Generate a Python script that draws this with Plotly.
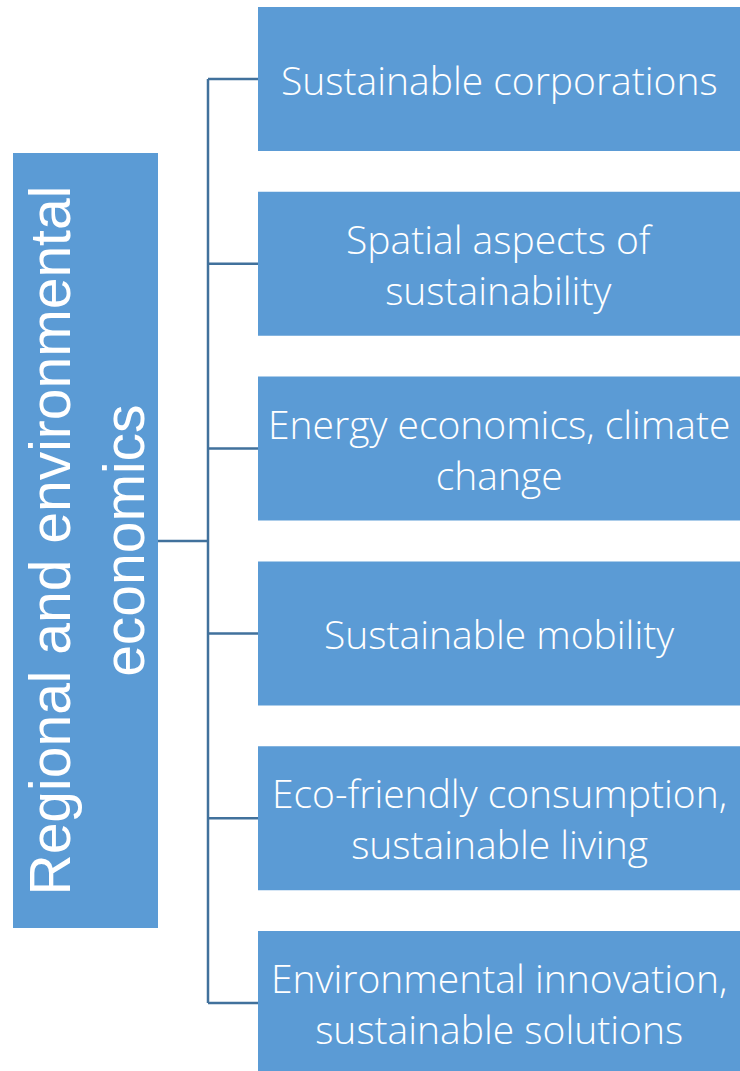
import plotly.graph_objects as go

root_label = "Regional and environmental<br>economics"
branch_labels = [
    "Sustainable corporations",
    "Spatial aspects of<br>sustainability",
    "Energy economics, climate<br>change",
    "Sustainable mobility",
    "Eco-friendly consumption,<br>sustainable living",
    "Environmental innovation,<br>sustainable solutions",
]

W, H = 740, 1071
FILL = "#5B9BD5"
LINE = "#41719C"

fig = go.Figure()
fig.add_trace(go.Scatter(x=[0, W], y=[0, H], mode="markers",
                         marker=dict(opacity=0), hoverinfo="skip", showlegend=False))

shapes = []
annotations = []

# branch boxes
top0, step, bh = 7, 184.8, 144
bx0, bx1 = 258, 745
spine_x = 208
centers = []
for i, lab in enumerate(branch_labels):
    t = top0 + i * step
    b = t + bh if i < len(branch_labels) - 1 else H + 5
    c = t + 72
    centers.append(c)
    shapes.append(dict(type="rect", x0=bx0, x1=bx1, y0=t, y1=b, fillcolor=FILL,
                       line=dict(width=0), layer="below"))
    shapes.append(dict(type="line", x0=spine_x, x1=bx0, y0=c, y1=c,
                       line=dict(color=LINE, width=2.5)))
    annotations.append(dict(x=(258 + 740) / 2, y=c, text=lab, showarrow=False,
                            font=dict(family="Open Sans", size=39, color="white",
                                      weight=300),
                            xanchor="center", yanchor="middle"))

# spine
shapes.append(dict(type="line", x0=spine_x, x1=spine_x, y0=centers[0], y1=centers[-1],
                   line=dict(color=LINE, width=2.5)))
mid = (centers[0] + centers[-1]) / 2
shapes.append(dict(type="line", x0=158, x1=spine_x, y0=mid, y1=mid,
                   line=dict(color=LINE, width=2.5)))

# root box
shapes.append(dict(type="rect", x0=13, x1=158, y0=153, y1=928, fillcolor=FILL,
                   line=dict(width=0), layer="below"))
annotations.append(dict(x=86, y=(153 + 928) / 2, text=root_label, showarrow=False,
                        textangle=-90,
                        font=dict(family="Liberation Sans, Arial", size=57, color="white"),
                        xanchor="center", yanchor="middle"))

fig.update_layout(
    width=W, height=H, margin=dict(l=0, r=0, t=0, b=0),
    paper_bgcolor="white", plot_bgcolor="white",
    xaxis=dict(range=[0, W], visible=False, fixedrange=True),
    yaxis=dict(range=[H, 0], visible=False, fixedrange=True),
    shapes=shapes, annotations=annotations,
)
fig.write_html("out.html", post_script="document.body.style.margin='0px';",
               config={"displayModeBar": False})
